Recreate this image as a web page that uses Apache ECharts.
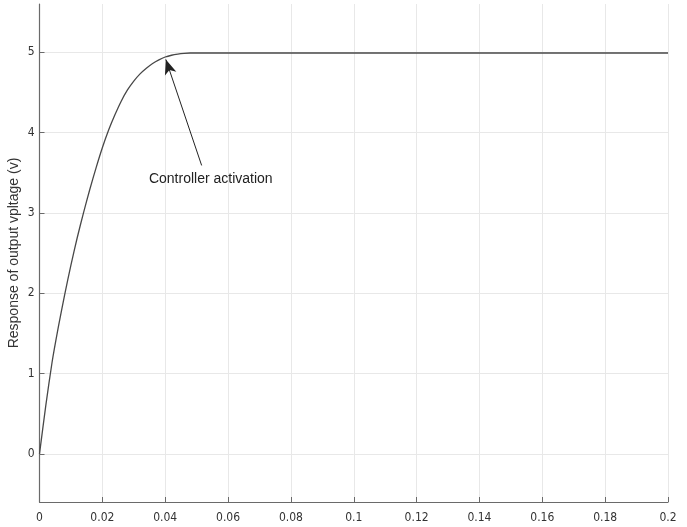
<!DOCTYPE html>
<html>
<head>
<meta charset="utf-8">
<script src="https://cdn.jsdelivr.net/npm/echarts@6/dist/echarts.min.js"></script>
<style>
  html, body { margin: 0; padding: 0; background: #fff; }
  #chart { width: 687px; height: 527px; }
</style>
</head>
<body>
<div id="chart"></div>
<script>
// Time (s) and output voltage (V) of the step response
const timeS = [0, 0.002, 0.004, 0.006, 0.008, 0.010, 0.012, 0.014, 0.016, 0.018,
  0.020, 0.022, 0.024, 0.026, 0.028, 0.030, 0.032, 0.034, 0.036, 0.038,
  0.040, 0.042, 0.044, 0.046, 0.048, 0.050, 0.060, 0.080, 0.100, 0.120,
  0.140, 0.160, 0.180, 0.200];
const voltage = [0, 0.60, 1.14, 1.58, 1.98, 2.35, 2.69, 3.00, 3.29, 3.56,
  3.81, 4.03, 4.22, 4.39, 4.53, 4.64, 4.73, 4.80, 4.86, 4.905,
  4.94, 4.962, 4.976, 4.985, 4.99, 4.99, 4.99, 4.99, 4.99, 4.99,
  4.99, 4.99, 4.99, 4.99];

// Axis ticks
const yTicks = [0, 1, 2, 3, 4, 5];

// Annotation: arrow tail, arrow tip and text anchor in data units
const noteText = 'Controller activation';
const arrowTail = [0.0516, 3.59];
const arrowTip = [0.0402, 4.91];
const noteAt = [0.0545, 3.42];

const FONT = 'Liberation Sans, Arial, sans-serif';
const NARROW = '"Liberation Sans Narrow", "Arial Narrow", "DejaVu Sans Condensed", sans-serif';
const chart = echarts.init(document.getElementById('chart'));

chart.setOption({
  animation: false,
  backgroundColor: '#fff',
  grid: { left: 39.5, right: 19, top: 4, bottom: 25, containLabel: false, outerBoundsMode: 'none' },
  xAxis: {
    type: 'value',
    min: 0, max: 0.2, interval: 0.02,
    axisLine: { show: true, onZero: false, lineStyle: { color: '#6a6a6a', width: 1.2 } },
    axisTick: { show: true, inside: true, length: 5, lineStyle: { color: '#6a6a6a' } },
    axisLabel: {
      color: '#333', fontSize: 12, fontFamily: NARROW, margin: 10,
      formatter: v => String(parseFloat(v.toFixed(2)))
    },
    splitLine: { show: true, lineStyle: { color: '#e8e8e8', width: 1 } }
  },
  yAxis: {
    type: 'value',
    min: -0.6, max: 5.6,
    name: 'Response of output vpltage (v)',
    nameLocation: 'middle',
    nameGap: 18,
    nameMoveOverlap: false,
    nameTextStyle: { color: '#333', fontSize: 14, fontFamily: FONT },
    axisLine: { show: true, onZero: false, lineStyle: { color: '#6a6a6a', width: 1.2 } },
    axisTick: { show: true, inside: true, length: 5, customValues: yTicks, lineStyle: { color: '#6a6a6a' } },
    axisLabel: { color: '#333', fontSize: 12, fontFamily: NARROW, margin: 5, customValues: yTicks },
    splitLine: { show: true, lineStyle: { color: '#e8e8e8', width: 1 } }
  },
  series: [{
    type: 'line',
    data: timeS.map((t, i) => [t, voltage[i]]),
    smooth: 0.2,
    showSymbol: false,
    lineStyle: { color: '#484848', width: 1.3 },
    markLine: {
      silent: true,
      symbol: ['none', 'arrow'],
      symbolSize: [9, 15],
      lineStyle: { color: '#222', width: 1, type: 'solid' },
      label: { show: false },
      data: [[{ coord: arrowTail }, { coord: arrowTip }]]
    },
    markPoint: {
      silent: true,
      symbol: 'circle',
      symbolSize: 0,
      label: {
        show: true, position: 'inside',
        formatter: noteText,
        color: '#222', fontSize: 14, fontFamily: FONT
      },
      data: [{ coord: noteAt }]
    }
  }]
});
</script>
</body>
</html>
